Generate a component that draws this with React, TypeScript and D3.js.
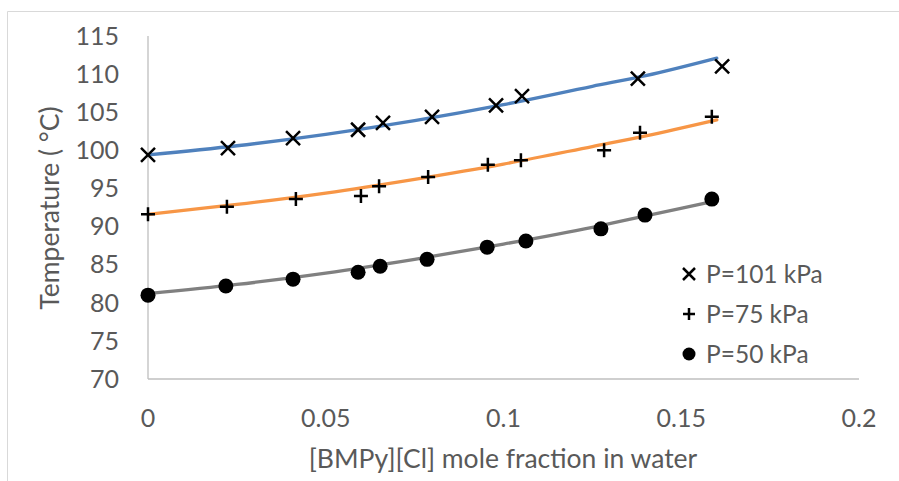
import React from "react";
import * as d3 from "d3";

const xTicks = [0, 0.05, 0.1, 0.15, 0.2];
const yTicks = [70, 75, 80, 85, 90, 95, 100, 105, 110, 115];

const x101 = [0, 0.0225, 0.0408, 0.0591, 0.0661, 0.0799, 0.0979, 0.1052, 0.1378, 0.1615];
const t101 = [99.4, 100.3, 101.6, 102.7, 103.6, 104.4, 105.9, 107.1, 109.4, 111.0];

const x75 = [0, 0.0222, 0.0416, 0.0599, 0.065, 0.0788, 0.0956, 0.1049, 0.1283, 0.1384, 0.1586];
const t75 = [91.6, 92.6, 93.6, 94.0, 95.3, 96.5, 98.1, 98.7, 100.0, 102.3, 104.4];

const x50 = [0, 0.0219, 0.0408, 0.0591, 0.0653, 0.0785, 0.0954, 0.1063, 0.1274, 0.1398, 0.1586];
const t50 = [81.0, 82.2, 83.1, 84.0, 84.8, 85.7, 87.3, 88.1, 89.7, 91.5, 93.6];

// trendline samples
const trendX = [0, 0.025, 0.05, 0.075, 0.1, 0.125, 0.14, 0.16];
const trend101 = [99.4, 100.6, 102.1, 103.9, 106.0, 108.4, 109.8, 112.1];
const trend75 = [91.6, 92.9, 94.4, 96.2, 98.2, 100.5, 101.9, 104.0];
const trend50 = [81.2, 82.4, 83.9, 85.7, 87.7, 89.9, 91.4, 93.4];

const legendLabels = ["P=101 kPa", "P=75 kPa", "P=50 kPa"];

const FONT = "Lato, 'Open Sans', sans-serif";
const TXT = "#595959";
const AX = "#bfbfbf";

export default function App() {
  const x = d3.scaleLinear().domain([0, 0.2]).range([148, 859]);
  const y = d3.scaleLinear().domain([70, 115]).range([379, 36]);
  const line = d3
    .line<[number, number]>()
    .x((d) => x(d[0]))
    .y((d) => y(d[1]))
    .curve(d3.curveMonotoneX);

  const series = [
    { xs: x101, ts: t101, trend: trend101, color: "#4f81bd", kind: "x" },
    { xs: x75, ts: t75, trend: trend75, color: "#f79646", kind: "+" },
    { xs: x50, ts: t50, trend: trend50, color: "#808080", kind: "o" },
  ];

  const marker = (kind: string, cx: number, cy: number, key: any, s = 7) => {
    if (kind === "x") {
      return (
        <path
          key={key}
          d={`M${cx - s},${cy - s}L${cx + s},${cy + s}M${cx - s},${cy + s}L${cx + s},${cy - s}`}
          stroke="#000"
          strokeWidth={2.5}
          fill="none"
        />
      );
    }
    if (kind === "+") {
      return (
        <path
          key={key}
          d={`M${cx - s},${cy}L${cx + s},${cy}M${cx},${cy - s}L${cx},${cy + s}`}
          stroke="#000"
          strokeWidth={2.5}
          fill="none"
        />
      );
    }
    return <circle key={key} cx={cx} cy={cy} r={7.5} fill="#000" />;
  };

  const legendY = [274, 314, 354];

  return (
    <svg
      width={899}
      height={481}
      style={{ position: "absolute", left: 0, top: 0, background: "#fff" }}
    >
      {/* outer frame */}
      <line x1={7.5} y1={11.5} x2={7.5} y2={481} stroke="#d9d9d9" strokeWidth={1} />
      <line x1={7.5} y1={11.5} x2={899} y2={11.5} stroke="#d9d9d9" strokeWidth={1} />

      {/* axes */}
      <line x1={x(0)} y1={y(115)} x2={x(0)} y2={y(70)} stroke={AX} strokeWidth={1.3} />
      <line x1={x(0)} y1={y(70)} x2={x(0.2)} y2={y(70)} stroke={AX} strokeWidth={1.3} />

      {yTicks.map((t) => (
        <text
          key={t}
          x={119}
          y={y(t)}
          dy="0.35em"
          textAnchor="end"
          fontFamily={FONT}
          fontSize={25}
          fill={TXT}
        >
          {t}
        </text>
      ))}
      {xTicks.map((t) => (
        <text
          key={t}
          x={x(t)}
          y={427}
          textAnchor="middle"
          fontFamily={FONT}
          fontSize={25}
          fill={TXT}
        >
          {t}
        </text>
      ))}

      <text
        transform={`translate(59,208) rotate(-90)`}
        textAnchor="middle"
        fontFamily={FONT}
        fontSize={26.5}
        fill={TXT}
      >
        Temperature ( °C)
      </text>
      <text
        x={503}
        y={468}
        textAnchor="middle"
        fontFamily={FONT}
        fontSize={26.5}
        fill={TXT}
      >
        [BMPy][Cl] mole fraction in water
      </text>

      {series.map((s, i) => (
        <path
          key={"l" + i}
          d={line(s.trend.map((v, j) => [trendX[j], v] as [number, number])) || ""}
          stroke={s.color}
          strokeWidth={3.3}
          fill="none"
          strokeLinecap="round"
        />
      ))}
      {series.map((s, i) =>
        s.xs.map((xv, j) => marker(s.kind, x(xv), y(s.ts[j]), `m${i}-${j}`))
      )}

      {series.map((s, i) => (
        <g key={"lg" + i}>
          {s.kind === "o"
            ? <circle cx={689} cy={legendY[i]} r={6.5} fill="#000" />
            : marker(s.kind, 689, legendY[i], "lm" + i, 6)}
          <text
            x={706}
            y={legendY[i]}
            dy="0.35em"
            fontFamily={FONT}
            fontSize={24.5}
            fill={TXT}
          >
            {legendLabels[i]}
          </text>
        </g>
      ))}
    </svg>
  );
}
